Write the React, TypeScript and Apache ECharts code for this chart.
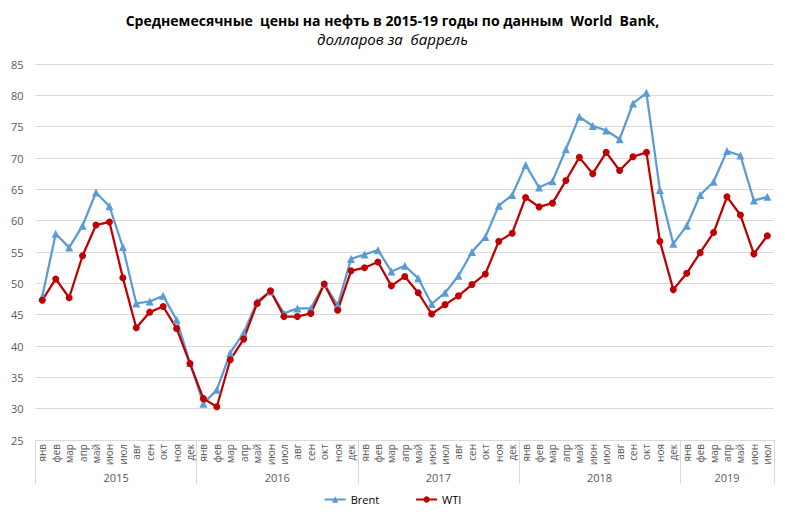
import React, { useEffect, useRef } from "react";
import * as echarts from "echarts";

const months = ["янв", "фев", "мар", "апр", "май", "июн", "июл", "авг", "сен", "окт", "ноя", "дек"];
const years = ["2015", "2016", "2017", "2018", "2019"];
const monthsPerYear = [12, 12, 12, 12, 7];

const brent = [
  47.9, 57.9, 55.7, 59.2, 64.5, 62.3, 55.8, 46.8, 47.1, 48.0, 44.2, 37.3,
  30.8, 33.0, 38.9, 42.1, 47.1, 48.7, 45.2, 46.0, 46.0, 49.9, 46.5, 53.9,
  54.6, 55.3, 51.9, 52.8, 50.8, 46.7, 48.5, 51.2, 55.0, 57.4, 62.4, 64.1,
  68.9, 65.3, 66.3, 71.4, 76.6, 75.1, 74.4, 73.0, 78.7, 80.4, 64.9, 56.3,
  59.2, 64.1, 66.2, 71.1, 70.4, 63.2, 63.8,
];
const wti = [
  47.3, 50.7, 47.7, 54.4, 59.3, 59.8, 50.9, 42.9, 45.4, 46.3, 42.8, 37.2,
  31.6, 30.3, 37.8, 41.1, 46.8, 48.8, 44.7, 44.7, 45.2, 49.9, 45.7, 52.0,
  52.5, 53.4, 49.6, 51.1, 48.5, 45.1, 46.6, 48.0, 49.8, 51.5, 56.7, 58.0,
  63.7, 62.2, 62.8, 66.4, 70.1, 67.5, 70.9, 68.0, 70.2, 70.9, 56.7, 49.0,
  51.6, 54.9, 58.1, 63.8, 60.9, 54.7, 57.6,
];
const yTicks = { min: 25, max: 85, step: 5 };

const titleText = "Среднемесячные  цены на нефть в 2015-19 годы по данным  World  Bank,";
const subText = "долларов за  баррель";

export default function App() {
  const ref = useRef<HTMLDivElement>(null);
  useEffect(() => {
    if (!ref.current) return;
    const chart = echarts.init(ref.current, undefined, { renderer: "svg" });

    const monthCats: string[] = [];
    monthsPerYear.forEach((c) => {
      for (let i = 0; i < c; i++) monthCats.push(months[i]);
    });
    const total = monthCats.length;
    const slots: string[] = new Array(total * 2 + 1).fill("");
    const boundaries = new Set<number>();
    let start = 0;
    monthsPerYear.forEach((c, k) => {
      slots[2 * start + c] = years[k];
      boundaries.add(2 * start);
      boundaries.add(2 * (start + c));
      start += c;
    });

    const font = "'Open Sans', 'Noto Sans', sans-serif";

    chart.setOption({
      animation: false,
      textStyle: { fontFamily: font },
      title: {
        text: titleText,
        subtext: subText,
        left: "center",
        top: 0,
        itemGap: 4,
        textStyle: { fontSize: 14, fontWeight: "bold", color: "#000", fontFamily: font },
        subtextStyle: { fontSize: 15, fontStyle: "italic", color: "#000", fontFamily: font },
      },
      legend: {
        top: 481,
        left: "center",
        itemGap: 36,
        itemWidth: 21,
        itemHeight: 8,
        textStyle: { fontSize: 11, color: "#000" },
        data: ["Brent", "WTI"],
      },
      grid: { left: 22, right: 0, top: 56, bottom: 69, containLabel: false },
      xAxis: [
        {
          type: "category",
          data: monthCats,
          boundaryGap: true,
          position: "bottom",
          axisLine: { show: false },
          axisTick: { show: false },
          axisLabel: { rotate: 90, interval: 0, fontSize: 10, color: "#595959", margin: 4 },
        },
        {
          type: "category",
          data: slots,
          boundaryGap: false,
          position: "bottom",
          axisLine: { show: true, lineStyle: { color: "#d9d9d9", width: 1 } },
          axisTick: {
            show: true,
            length: 44,
            interval: (i: number) => boundaries.has(i),
            lineStyle: { color: "#d9d9d9", width: 1 },
          },
          axisLabel: { interval: 0, fontSize: 11, color: "#595959", margin: 32 },
        },
      ],
      yAxis: {
        type: "value",
        min: yTicks.min,
        max: yTicks.max,
        interval: yTicks.step,
        axisLine: { show: false },
        axisTick: { show: false },
        axisLabel: { fontSize: 11, color: "#595959", margin: 12 },
        splitLine: { lineStyle: { color: "#d9d9d9", width: 1 } },
      },
      series: [
        {
          name: "Brent",
          type: "line",
          data: brent,
          xAxisIndex: 0,
          symbol: "triangle",
          symbolSize: 8,
          lineStyle: { color: "#5B9BD5", width: 2.25 },
          itemStyle: { color: "#5B9BD5" },
        },
        {
          name: "WTI",
          type: "line",
          data: wti,
          xAxisIndex: 0,
          symbol: "circle",
          symbolSize: 7,
          lineStyle: { color: "#C00000", width: 2.25 },
          itemStyle: { color: "#C00000" },
        },
      ],
    });
    return () => chart.dispose();
  }, []);
  return <div ref={ref} style={{ width: 769, height: 501 }} />;
}
